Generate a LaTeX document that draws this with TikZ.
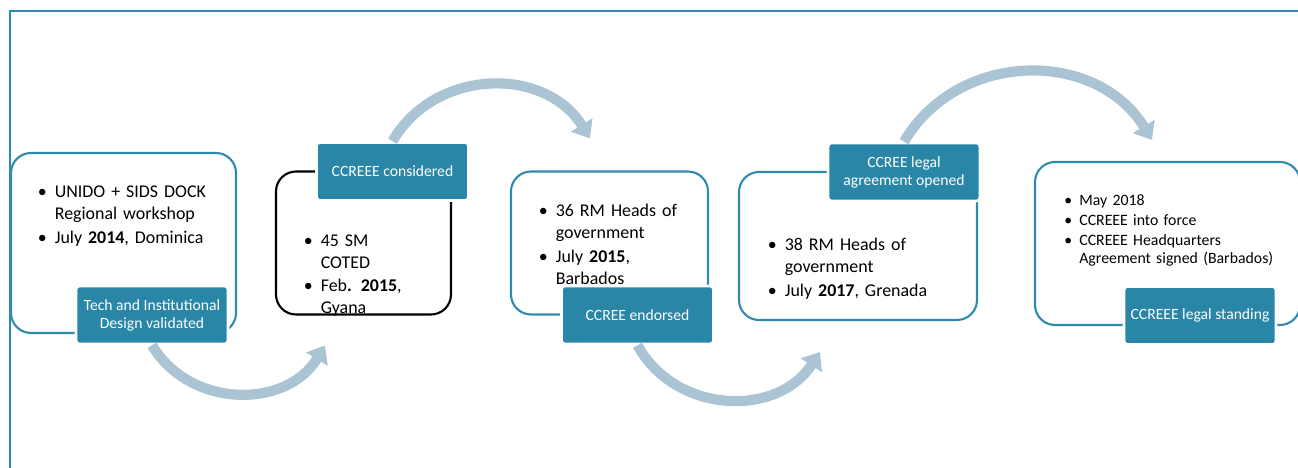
\documentclass[tikz,border=0pt]{standalone}
\usepackage{fontspec}
\setmainfont{Carlito}
\usetikzlibrary{arrows.meta,positioning}
\definecolor{tealfill}{RGB}{41,134,166}
\definecolor{boxline}{RGB}{46,139,174}
\definecolor{flowgrey}{RGB}{170,196,212}
\newcommand{\bul}[1]{\makebox[0.95em][l]{\textbullet}\parbox[t]{4.5cm}{\strut#1\strut}}
\tikzset
{
    card/.style    = {rectangle, draw=boxline, line width=1.2pt, rounded corners=0.4cm, fill=white, inner sep=0pt},
    stage/.style   = {rectangle, fill=tealfill, draw=white, line width=1.5pt, rounded corners=2pt, minimum width=3.04cm, minimum height=1.16cm, text=white, align=center, font=\fontsize{8.9}{10.2}\selectfont},
    bullets/.style = {anchor=base west, inner sep=0pt, text width=5.5cm, align=left, font=\fontsize{10.2}{12.4}\selectfont, execute at begin node={\parskip=1pt\lineskip=0pt}},
    flow/.style    = {draw=flowgrey, line width=5.8pt, -{Triangle[width=14pt, length=9pt]}, looseness=1.1}
}

\begin{document}
\begin{tikzpicture}
	\useasboundingbox (0,0) rectangle (25.96,9.36);
	\draw [boxline, line width=1.2pt] (0.2,0) |- (26,9.14);

	\node (box1) [card, minimum width=4.5cm, minimum height=3.6cm] at (2.47,4.5) {};
	\node (box2) [card, draw=black, right of=box1, xshift=3.8cm, minimum width=3.5cm, minimum height=2.86cm] {};
	\node (box3) [card, right of=box2, xshift=3.92cm, minimum width=3.94cm, minimum height=2.86cm] {};
	\node (box4) [card, right of=box3, xshift=3.97cm, yshift=-0.06cm, minimum width=4.76cm, minimum height=2.96cm] {};
	\node (box5) [card, right of=box4, xshift=5.19cm, yshift=0.05cm, minimum width=5.3cm, minimum height=3.26cm] {};

	\node (txt1) [bullets] at ([xshift=0.55cm, yshift=-0.92cm]box1.north west) {\bul{UNIDO + SIDS DOCK\\Regional workshop}\par\bul{July \textbf{2014}, Dominica}};
	\node (txt2) [bullets] at ([xshift=0.57cm, yshift=-1.52cm]box2.north west) {\bul{45 SM\\COTED}\par\bul{Feb\textbf{. 2015},\\Gyana}};
	\node (txt3) [bullets] at ([xshift=0.57cm, yshift=-0.93cm]box3.north west) {\bul{36 RM Heads of\\government}\par\bul{July \textbf{2015},\\Barbados}};
	\node (txt4) [bullets] at ([xshift=0.59cm, yshift=-1.6cm]box4.north west) {\bul{38 RM Heads of\\government}\par\bul{July \textbf{2017}, Grenada}};
	\node (txt5) [bullets, font=\fontsize{9}{10.4}\selectfont, execute at begin node={\parskip=0.8pt\lineskip=0pt}] at ([xshift=0.6cm, yshift=-0.9cm]box5.north west) {\bul{May 2018}\par\bul{CCREEE into force}\par\bul{CCREEE Headquarters\\Agreement signed (Barbados)}};

	\node (lab1) [stage, below of=box1, xshift=0.57cm, yshift=-0.44cm] {Tech and Institutional\\Design validated};
	\node (lab2) [stage, above of=box2, xshift=0.58cm, yshift=0.43cm] {CCREEE considered};
	\node (lab3) [stage, below of=box3, xshift=0.56cm, yshift=-0.44cm] {CCREE endorsed};
	\node (lab4) [stage, above of=box4, xshift=0.92cm, yshift=0.48cm] {CCREE legal\\agreement opened};
	\node (lab5) [stage, below of=box5, xshift=0.65cm, yshift=-0.44cm] {CCREEE legal standing};

	\coordinate (end1) at ([xshift=1cm, yshift=-0.6cm]box2.south west);
	\coordinate (end2) at ([xshift=1.6cm, yshift=0.64cm]box3.north west);
	\coordinate (end3) at ([xshift=1.64cm, yshift=-0.62cm]box4.south west);
	\coordinate (end4) at ([xshift=2.36cm, yshift=0.42cm]box5.north west);

	\draw [flow] (lab1.south) to[bend right=59] (end1);
	\draw [flow] (lab2.north) to[bend left=59] (end2);
	\draw [flow] (lab3.south) to[bend right=59] (end3);
	\draw [flow] (lab4.north) to[bend left=59] (end4);
\end{tikzpicture}
\end{document}
